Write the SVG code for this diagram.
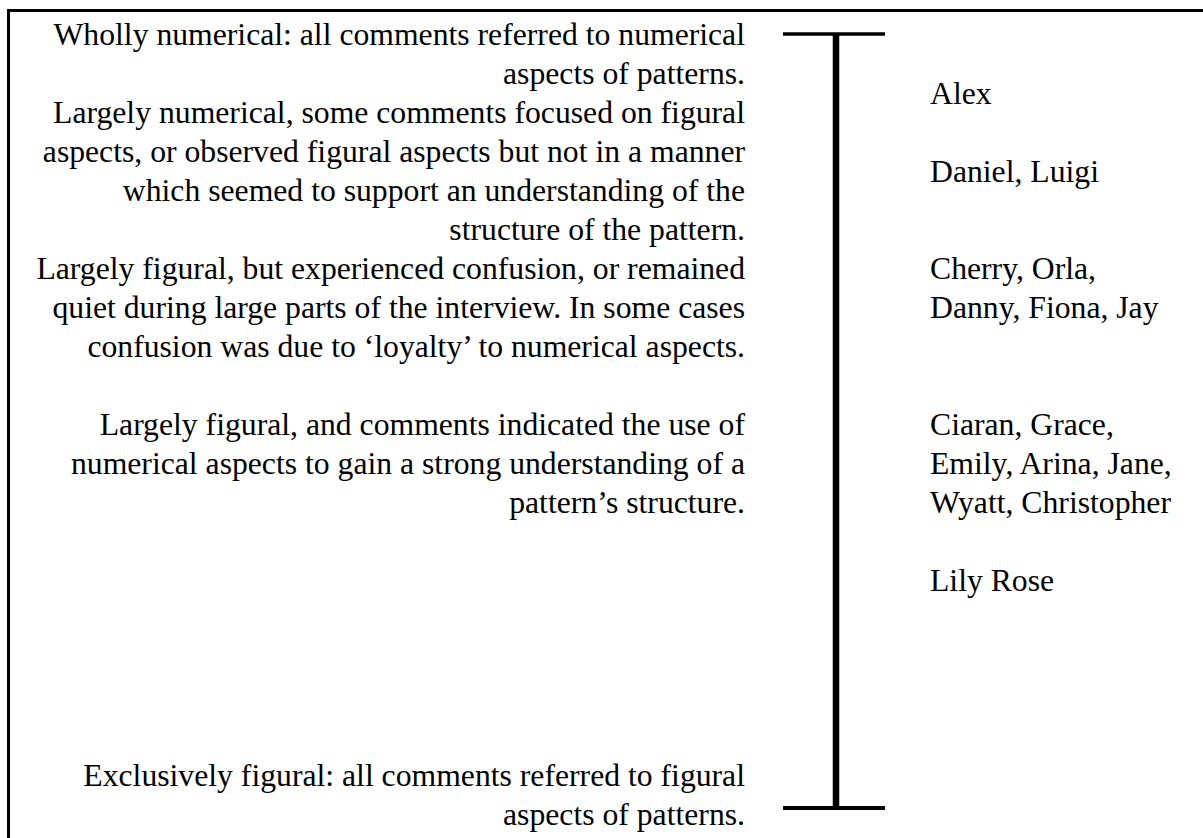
<svg xmlns="http://www.w3.org/2000/svg" width="1203" height="838" viewBox="0 0 1203 838">
<style>
  text { font-family: "Liberation Serif", "Times New Roman", serif; font-size: 31.7px; fill: #000; }
  .desc { text-anchor: end; }
  .name { text-anchor: start; }
  .frame { stroke: #000; stroke-width: 3; fill: none; }
  .bar { stroke: #000; fill: none; }
</style>
<rect width="1203" height="838" fill="#fff"/>
<g id="frame">
  <line class="frame" x1="8.5" y1="10.5" x2="1203" y2="10.5"/>
  <line class="frame" x1="8.5" y1="9" x2="8.5" y2="838"/>
</g>
<g id="connectors">
  <line class="bar" x1="836" y1="34" x2="836" y2="808" stroke-width="6.5"/>
  <line class="bar" x1="783" y1="34" x2="885" y2="34" stroke-width="3.6"/>
  <line class="bar" x1="783" y1="808" x2="885" y2="808" stroke-width="4"/>
</g>
<g id="level-wholly-numerical">
  <text class="desc" x="745" y="45">Wholly numerical: all comments referred to numerical</text>
  <text class="desc" x="745" y="84">aspects of patterns.</text>
</g>
<g id="level-largely-numerical">
  <text class="desc" x="745" y="123">Largely numerical, some comments focused on figural</text>
  <text class="desc" x="745" y="162">aspects, or observed figural aspects but not in a manner</text>
  <text class="desc" x="745" y="201">which seemed to support an understanding of the</text>
  <text class="desc" x="745" y="240">structure of the pattern.</text>
</g>
<g id="level-figural-confusion">
  <text class="desc" x="745" y="279">Largely figural, but experienced confusion, or remained</text>
  <text class="desc" x="745" y="318">quiet during large parts of the interview. In some cases</text>
  <text class="desc" x="745" y="357">confusion was due to ‘loyalty’ to numerical aspects.</text>
</g>
<g id="level-figural-strong">
  <text class="desc" x="745" y="435">Largely figural, and comments indicated the use of</text>
  <text class="desc" x="745" y="474">numerical aspects to gain a strong understanding of a</text>
  <text class="desc" x="745" y="513">pattern’s structure.</text>
</g>
<g id="level-exclusively-figural">
  <text class="desc" x="745" y="786">Exclusively figural: all comments referred to figural</text>
  <text class="desc" x="745" y="825">aspects of patterns.</text>
</g>
<g id="names-alex"><text class="name" x="930" y="103.5">Alex</text></g>
<g id="names-daniel-luigi"><text class="name" x="930" y="182">Daniel, Luigi</text></g>
<g id="names-cherry">
  <text class="name" x="930" y="279">Cherry, Orla,</text>
  <text class="name" x="930" y="318">Danny, Fiona, Jay</text>
</g>
<g id="names-ciaran">
  <text class="name" x="930" y="435">Ciaran, Grace,</text>
  <text class="name" x="930" y="474">Emily, Arina, Jane,</text>
  <text class="name" x="930" y="513">Wyatt, Christopher</text>
</g>
<g id="names-lily"><text class="name" x="930" y="591">Lily Rose</text></g>
</svg>
